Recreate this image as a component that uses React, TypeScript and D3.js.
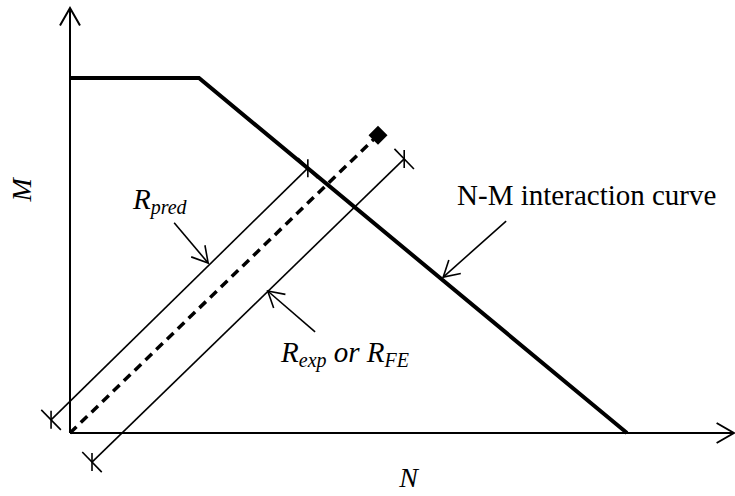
import React from 'react';
import * as d3 from 'd3';

// N-M interaction curve (normalised N, M)
const curveN = [0, 0.2316, 1];
const curveM = [1, 1, 0];

// loading path from origin to failure point
const loadN = [0, 0.553];
const loadM = [0, 0.839];

// dimension lines (start, end)
const predN = [-0.034, 0.427];
const predM = [0.037, 0.746];
const expN = [0.0395, 0.6];
const expM = [-0.082, 0.772];

// leader arrows: [tailN, tailM, tipN, tipM]
const leaderPred = [0.187, 0.592, 0.248, 0.479];
const leaderExp = [0.44, 0.285, 0.355, 0.4];
const leaderCurve = [0.783, 0.597, 0.67, 0.439];

const axisMax = [1.192, 1.197];

const W = 735;
const H = 496;
const font = '"Liberation Serif", "Times New Roman", serif';

const x = d3.scaleLinear().domain([0, 1]).range([70, 627]);
const y = d3.scaleLinear().domain([0, 1]).range([433, 78]);

function Arrow({ x1, y1, x2, y2, len = 18, half = 30, width = 1.6 }) {
  const ang = Math.atan2(y2 - y1, x2 - x1);
  const a1 = ang + Math.PI - (half * Math.PI) / 180;
  const a2 = ang + Math.PI + (half * Math.PI) / 180;
  const head = `M${x2 + len * Math.cos(a1)},${y2 + len * Math.sin(a1)}L${x2},${y2}L${x2 + len * Math.cos(a2)},${y2 + len * Math.sin(a2)}`;
  return (
    <g stroke="#000" strokeWidth={width} fill="none">
      <line x1={x1} y1={y1} x2={x2} y2={y2} />
      <path d={head} />
    </g>
  );
}

function DimLine({ ns, ms }) {
  const p0 = [x(ns[0]), y(ms[0])];
  const p1 = [x(ns[1]), y(ms[1])];
  const dx = p1[0] - p0[0];
  const dy = p1[1] - p0[1];
  const l = Math.hypot(dx, dy);
  const px = -dy / l;
  const py = dx / l;
  const ticks = [p0, p1].map((p, i) => (
    <g key={i}>
      <line x1={p[0] - px * 14} y1={p[1] - py * 14} x2={p[0] + px * 14} y2={p[1] + py * 14} />
      <line x1={p[0]} y1={p[1] - 9} x2={p[0]} y2={p[1] + 9} />
    </g>
  ));
  return (
    <g stroke="#000" strokeWidth={1.6} fill="none">
      <line x1={p0[0]} y1={p0[1]} x2={p1[0]} y2={p1[1]} />
      {ticks}
    </g>
  );
}

function Leader({ d }) {
  return <Arrow x1={x(d[0])} y1={y(d[1])} x2={x(d[2])} y2={y(d[3])} />;
}

export default function App() {
  const line = d3
    .line<number>()
    .x((_, i) => x(curveN[i]))
    .y((_, i) => y(curveM[i]));

  const diamond = d3.symbol().type(d3.symbolSquare).size(180)();

  return (
    <svg
      width={W}
      height={H}
      style={{ position: 'absolute', left: 0, top: 0, background: '#fff' }}
      fontFamily={font}
    >
      {/* axes */}
      <Arrow x1={x(0)} y1={y(0)} x2={x(axisMax[0])} y2={y(0)} len={20} width={2} />
      <Arrow x1={x(0)} y1={y(0)} x2={x(0)} y2={y(axisMax[1])} len={20} width={2} />

      {/* interaction curve */}
      <path d={line(curveN) || ''} fill="none" stroke="#000" strokeWidth={4} />

      {/* loading path */}
      <line
        x1={x(loadN[0])}
        y1={y(loadM[0])}
        x2={x(loadN[1])}
        y2={y(loadM[1])}
        stroke="#000"
        strokeWidth={3.5}
        strokeDasharray="9,6"
      />
      <path
        d={diamond || ''}
        transform={`translate(${x(loadN[1])},${y(loadM[1])}) rotate(45)`}
        fill="#000"
      />

      <DimLine ns={predN} ms={predM} />
      <DimLine ns={expN} ms={expM} />

      <Leader d={leaderPred} />
      <Leader d={leaderExp} />
      <Leader d={leaderCurve} />

      {/* labels */}
      <text x={x(0.695)} y={y(0.642)} fontSize={29}>N-M interaction curve</text>
      <text x={x(0.113)} y={y(0.631)} fontSize={29} fontStyle="italic">
        R<tspan fontSize={20} dy={5}>pred</tspan>
      </text>
      <text x={x(0.379)} y={y(0.2)} fontSize={29} fontStyle="italic">
        R<tspan fontSize={20} dy={5}>exp</tspan>
        <tspan dy={-5}> or R</tspan>
        <tspan fontSize={20} dy={5}>FE</tspan>
      </text>
      <text x={x(0.591)} y={y(-0.152)} fontSize={28} fontStyle="italic">N</text>
      <text
        transform={`translate(${x(-0.07)},${y(0.685)}) rotate(-90)`}
        textAnchor="middle"
        fontSize={28}
        fontStyle="italic"
      >
        M
      </text>
    </svg>
  );
}
